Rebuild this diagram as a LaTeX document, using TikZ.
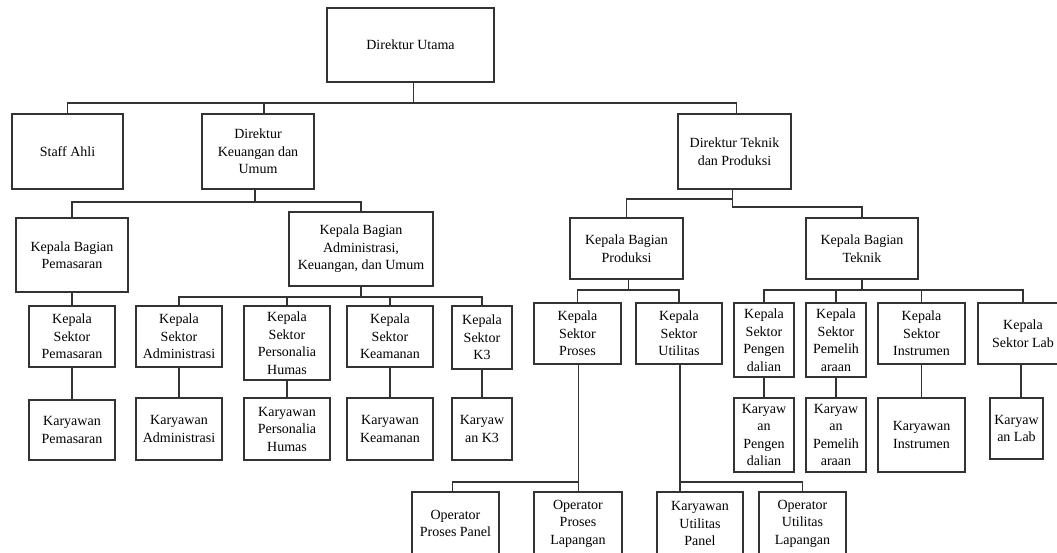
\documentclass[tikz,border=0pt]{standalone}
\usepackage{fontspec}
\setmainfont{Liberation Serif}
\newcommand\mkbox[6]{%
  \pgfmathsetmacro\bxcx{(#2+#3)/2}%
  \pgfmathsetmacro\bxcy{(#4+#5)/2}%
  \pgfmathsetmacro\bxw{#3-#2}%
  \pgfmathsetmacro\bxh{#5-#4}%
  \node[box, minimum width=\bxw pt, minimum height=\bxh pt] (#1) at (\bxcx,\bxcy) {#6};}
\begin{document}
\begin{tikzpicture}[x=1pt, y=-1pt,
  box/.style={draw=black!80, line width=1.2pt, fill=white, align=center, inner sep=0pt,
    font=\fontsize{14}{17.5}\selectfont},
  ln/.style={draw=black!80, line width=1.1pt}]
\useasboundingbox (0,0) rectangle (1057,552);
\clip (0,0) rectangle (1057,552);
\fill[white] (0,0) rectangle (1057,552);

% level 0-1
\mkbox{du}{327}{494}{8}{82}{Direktur Utama}
\mkbox{sa}{12}{123}{114}{189}{Staff Ahli}
\mkbox{dk}{202}{314}{114}{189}{Direktur\\Keuangan dan\\Umum}
\mkbox{dt}{678}{791}{114}{189}{Direktur Teknik\\dan Produksi}

% level 2
\mkbox{kbp}{16}{128}{218}{292}{Kepala Bagian\\Pemasaran}
\mkbox{kba}{289}{433}{212}{286}{Kepala Bagian\\Administrasi,\\Keuangan, dan Umum}
\mkbox{kbprod}{570}{683}{218}{279}{Kepala Bagian\\Produksi}
\mkbox{kbtek}{806}{918}{218}{279}{Kepala Bagian\\Teknik}

% level 3
\mkbox{kspem}{29}{115}{306}{367}{Kepala\\Sektor\\Pemasaran}
\mkbox{ksadm}{136}{222}{306}{367}{Kepala\\Sektor\\Administrasi}
\mkbox{ksper}{244}{330}{306}{380}{Kepala\\Sektor\\Personalia\\Humas}
\mkbox{kskeam}{347}{433}{306}{367}{Kepala\\Sektor\\Keamanan}
\mkbox{ksk3}{452}{512}{306}{369}{Kepala\\Sektor\\K3}
\mkbox{ksproses}{534}{621}{303}{364}{Kepala\\Sektor\\Proses}
\mkbox{ksutil}{636}{722}{303}{364}{Kepala\\Sektor\\Utilitas}
\mkbox{kspeng}{734}{794}{303}{377}{Kepala\\Sektor\\Pengen\\dalian}
\mkbox{kspemel}{806}{866}{303}{377}{Kepala\\Sektor\\Pemelih\\araan}
\mkbox{ksinst}{878}{965}{303}{364}{Kepala\\Sektor\\Instrumen}
\mkbox{kslab}{978}{1068}{303}{364}{Kepala\\Sektor Lab}

% level 4
\mkbox{kpem}{29}{115}{400}{460}{Karyawan\\Pemasaran}
\mkbox{kadm}{136}{222}{398}{460}{Karyawan\\Administrasi}
\mkbox{kper}{244}{330}{398}{460}{Karyawan\\Personalia\\Humas}
\mkbox{kkeam}{347}{433}{398}{460}{Karyawan\\Keamanan}
\mkbox{kk3}{452}{512}{398}{460}{Karyaw\\an K3}
\mkbox{kpeng}{734}{794}{398}{472}{Karyaw\\an\\Pengen\\dalian}
\mkbox{kpemel}{806}{866}{398}{472}{Karyaw\\an\\Pemelih\\araan}
\mkbox{kinst}{878}{965}{398}{472}{Karyawan\\Instrumen}
\mkbox{klab}{990}{1043}{398}{459}{Karyaw\\an Lab}

% level 5 (cut off at the bottom edge)
\mkbox{opp}{412}{499}{492}{555}{Operator\\Proses Panel}
\mkbox{opl}{534}{622}{492}{555}{Operator\\Proses\\Lapangan}
\mkbox{kup}{657}{743}{492}{555}{Karyawan\\Utilitas\\Panel}
\mkbox{oul}{759}{846}{492}{555}{Operator\\Utilitas\\Lapangan}

% connectors
\draw[ln] ([xshift=3pt]du.south) -- ([xshift=3pt]du.south |- 0,103);
\draw[ln] (sa.north) -- (sa.north |- 0,103) -| ([xshift=2pt]dt.north);
\draw[ln] ([xshift=6pt]dk.north) -- ([xshift=6pt]dk.north |- 0,103);

\draw[ln] ([xshift=-3pt]dk.south) -- ([xshift=-3pt]dk.south |- 0,202);
\draw[ln] (kbp.north) -- (kbp.north |- 0,202) -| (kba.north);

\draw[ln] (kba.south) -- (kba.south |- 0,297);
\draw[ln] (ksadm.north) -- (ksadm.north |- 0,297) -| (ksk3.north);
\draw[ln] (ksper.north) -- (ksper.north |- 0,297);
\draw[ln] (kskeam.north) -- (kskeam.north |- 0,297);

\draw[ln] (kbp.south) -- (kspem.north);
\draw[ln] (kspem.south) -- (kpem.north);
\draw[ln] (ksadm.south) -- (kadm.north);
\draw[ln] (ksper.south) -- (kper.north);
\draw[ln] (kskeam.south) -- (kkeam.north);
\draw[ln] (ksk3.south) -- (kk3.north);

\draw[ln] ([xshift=-2pt]dt.south) -- ([xshift=-2pt]dt.south |- 0,207) -| (kbtek.north);
\draw[ln] ([xshift=-2pt]dt.south |- 0,199) -| (kbprod.north);

\draw[ln] ([xshift=2pt]kbprod.south) -- ([xshift=2pt]kbprod.south |- 0,290);
\draw[ln] (ksproses.north) -- (ksproses.north |- 0,290) -| (ksutil.north);

\draw[ln] (kbtek.south) -- (kbtek.south |- 0,290);
\draw[ln] (kspeng.north) -- (kspeng.north |- 0,290) -| (kslab.north);
\draw[ln] (kspemel.north) -- (kspemel.north |- 0,290);
\draw[ln] (ksinst.north) -- (ksinst.north |- 0,290);

\draw[ln] (kspeng.south) -- (kpeng.north);
\draw[ln] (kspemel.south) -- (kpemel.north);
\draw[ln] (ksinst.south) -- (kinst.north);
\draw[ln] ([xshift=-2pt]kslab.south) -- ([xshift=-2pt]kslab.south |- klab.north);

\draw[ln] ([xshift=1pt]ksproses.south) -- ([xshift=1pt]ksproses.south |- opl.north);
\draw[ln] ([xshift=1pt]ksproses.south |- 0,482) -| ([xshift=-3pt]opp.north);
\draw[ln] ([xshift=1pt]ksutil.south) -- ([xshift=1pt]ksutil.south |- kup.north);
\draw[ln] ([xshift=1pt]ksutil.south |- 0,482) -| (oul.north);
\end{tikzpicture}
\end{document}
